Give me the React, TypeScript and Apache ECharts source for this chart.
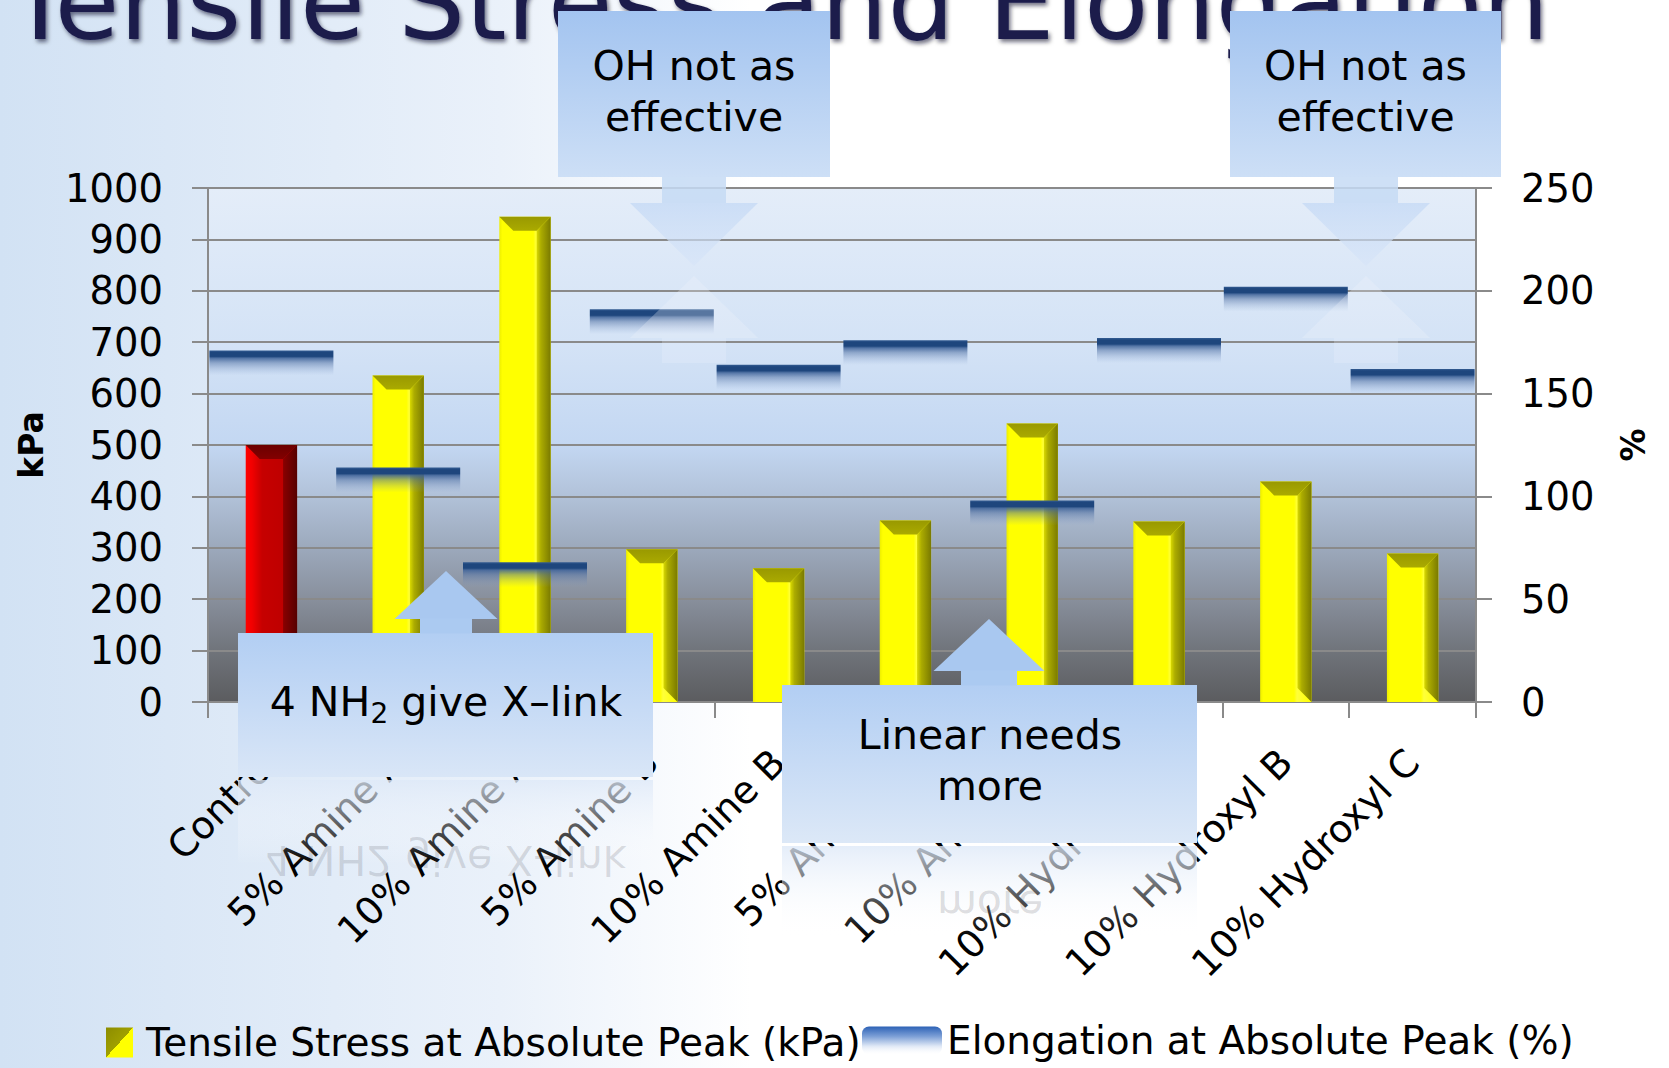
import React, { useEffect, useRef } from 'react';
import * as echarts from 'echarts';

// ---------- data ----------
const categories = [
  'Control',
  '5% Amine A',
  '10% Amine A',
  '5% Amine B',
  '10% Amine B',
  '5% Amine C',
  '10% Amine C',
  '10% Hydroxyl A',
  '10% Hydroxyl B',
  '10% Hydroxyl C',
];
const tensileStress = [500, 635, 944, 297, 260, 353, 542, 351, 429, 289];
const elongation = [171, 114, 68, 191, 164, 176, 98, 177, 202, 162];

const kpaTicks = [0, 100, 200, 300, 400, 500, 600, 700, 800, 900, 1000];
const pctTicks = [0, 50, 100, 150, 200, 250];

const seriesNames = ['Tensile Stress at Absolute Peak (kPa)', 'Elongation at Absolute Peak (%)'];
const axisNames = ['kPa', '%'];
const slideTitle = 'Tensile Stress and Elongation';
const noteOH = 'OH not as\neffective';
const noteNH2 = '{a|4 NH}{s|2}{a| give X–link}';
const noteNH2Plain = '4 NH2 give X–link';
const noteLinear = 'Linear needs\nmore';
const noteLinearEcho = 'more';

const FONT = 'DejaVu Sans';

export default function App() {
  const ref = useRef<HTMLDivElement>(null);

  useEffect(() => {
    const chart = echarts.init(ref.current!, null, { renderer: 'svg' });
    const LG = echarts.graphic.LinearGradient;
    const stops = (arr: [number, string][]) => arr.map(([offset, color]) => ({ offset, color }));

    const yellow = {
      face: stops([[0, '#eeee00'], [0.06, '#ffff00'], [0.66, '#ffff00'], [0.72, '#ffff3a'], [1, '#ffff00']]),
      side: stops([[0, '#dada00'], [0.3, '#acac00'], [1, '#7a7a00']]),
      top: stops([[0, '#999900'], [1, '#aaaa00']]),
    };
    const red = {
      face: stops([[0, '#ff0000'], [0.12, '#f20000'], [0.32, '#c60000'], [0.72, '#bf0000'], [1, '#a80000']]),
      side: stops([[0, '#8a0000'], [1, '#560000']]),
      top: stops([[0, '#6c0000'], [1, '#820000']]),
    };

    const renderBar = (_params: any, api: any) => {
      const i = api.value(0);
      const v = api.value(1);
      const top = api.coord([i, v]);
      const base = api.coord([i, 0]);
      const w = api.size([1, 0])[0] * 0.405;
      const x0 = top[0] - w / 2;
      const x1 = top[0] + w / 2;
      const y0 = top[1];
      const y1 = base[1];
      const b = Math.min(14, (y1 - y0) / 2);
      const P = i === 0 ? red : yellow;
      return {
        type: 'group',
        children: [
          { type: 'rect', shape: { x: x0, y: y0, width: w, height: y1 - y0 }, style: { fill: new LG(0, 0, 1, 0, P.face) } },
          {
            type: 'polygon',
            shape: { points: [[x1 - b, y0 + b], [x1, y0], [x1, y1], [x1 - b, y1 - b]] },
            style: { fill: new LG(0, 0, 1, 0, P.side) },
          },
          {
            type: 'polygon',
            shape: { points: [[x0, y0], [x1, y0], [x1 - b, y0 + b], [x0 + b, y0 + b]] },
            style: { fill: new LG(0, 0, 0, 1, P.top) },
          },
        ],
      };
    };

    const boxFill = (c0: string, c1: string) => new LG(0, 0, 0, 1, stops([[0, c0], [1, c1]]));
    const txt = (x: number, y: number, text: string, extra: any = {}) => ({
      type: 'text',
      x,
      y,
      z: 102,
      style: {
        text,
        fontFamily: FONT,
        fontSize: 41,
        lineHeight: 51,
        fill: '#000',
        align: 'center',
        verticalAlign: 'middle',
        ...extra,
      },
    });

    const downArrow = (cx: number) => [
      { type: 'rect', z: 101, shape: { x: cx - 32, y: 177, width: 64, height: 26 }, style: { fill: 'rgba(198,219,245,0.85)' } },
      {
        type: 'polygon',
        z: 101,
        shape: { points: [[cx - 64, 203], [cx + 64, 203], [cx, 266]] },
        style: { fill: new LG(0, 0, 0, 1, stops([[0, 'rgba(196,217,245,0.75)'], [1, 'rgba(214,228,248,0.6)']])) },
      },
      {
        type: 'polygon',
        z: 101,
        shape: { points: [[cx, 276], [cx + 64, 338], [cx - 64, 338]] },
        style: { fill: 'rgba(240,246,253,0.28)' },
      },
      { type: 'rect', z: 101, shape: { x: cx - 32, y: 338, width: 64, height: 25 }, style: { fill: 'rgba(240,246,253,0.22)' } },
    ];

    const upArrow = (cx: number, tipY: number, baseY: number, boxTop: number, halfW: number, halfShaft: number) => [
      {
        type: 'polygon',
        z: 101,
        shape: { points: [[cx - halfW, baseY], [cx + halfW, baseY], [cx, tipY]] },
        style: { fill: '#a9c8f0' },
      },
      {
        type: 'rect',
        z: 101,
        shape: { x: cx - halfShaft, y: baseY - 0.5, width: halfShaft * 2, height: boxTop - baseY + 1 },
        style: { fill: '#abcaf1' },
      },
    ];

    const graphics: any[] = [
      {
        type: 'text',
        x: 8,
        y: 2.5,
        z: 1,
        style: {
          text: slideTitle,
          fontFamily: FONT,
          fontSize: 105.5,
          fill: '#1b1d4c',
          align: 'left',
          verticalAlign: 'middle',
          textShadowColor: 'rgba(0,0,30,0.55)',
          textShadowBlur: 4,
          textShadowOffsetX: 2,
          textShadowOffsetY: 3,
        },
      },
      // callout 1
      { type: 'rect', z: 100, shape: { x: 558, y: 11, width: 272, height: 166 }, style: { fill: boxFill('#a3c4f0', '#cddff6') } },
      ...downArrow(694),
      txt(694, 91.5, noteOH),
      // callout 2
      { type: 'rect', z: 100, shape: { x: 1230, y: 11, width: 271, height: 166 }, style: { fill: boxFill('#a3c4f0', '#cddff6') } },
      ...downArrow(1366),
      txt(1365.5, 91.5, noteOH),
      // callout 3
      ...upArrow(446, 571, 619, 633, 51.5, 26),
      { type: 'rect', z: 100, shape: { x: 238, y: 633, width: 415, height: 144 }, style: { fill: boxFill('#b2cef3', '#d9e6f7') } },
      {
        type: 'rect',
        z: 100,
        shape: { x: 238, y: 780, width: 415, height: 85 },
        style: { fill: boxFill('rgba(222,233,248,0.8)', 'rgba(255,255,255,0)') },
      },
      txt(446, 702, noteNH2, {
        rich: {
          a: { fontFamily: FONT, fontSize: 41, fill: '#000', lineHeight: 51 },
          s: { fontFamily: FONT, fontSize: 28, fill: '#000', lineHeight: 51, padding: [22, 0, 0, 0] },
        },
      }),
      {
        type: 'text',
        x: 446,
        y: 860,
        scaleY: -1,
        z: 101,
        style: { text: noteNH2Plain, fontFamily: FONT, fontSize: 41, fill: 'rgba(60,60,70,0.16)', align: 'center', verticalAlign: 'middle' },
      },
      // callout 4
      ...upArrow(989, 619, 671, 685, 55.5, 28),
      { type: 'rect', z: 100, shape: { x: 782, y: 685, width: 415, height: 158 }, style: { fill: boxFill('#b2cef3', '#dce8f7') } },
      {
        type: 'rect',
        z: 100,
        shape: { x: 782, y: 846, width: 415, height: 92 },
        style: { fill: boxFill('rgba(222,233,248,0.8)', 'rgba(255,255,255,0)') },
      },
      txt(990, 760, noteLinear),
      {
        type: 'text',
        x: 990,
        y: 905,
        scaleY: -1,
        z: 101,
        style: { text: noteLinearEcho, fontFamily: FONT, fontSize: 41, fill: 'rgba(60,60,70,0.18)', align: 'center', verticalAlign: 'middle' },
      },
    ];

    const gridLine = { color: '#8a8a8a', width: 2 };
    const labelStyle = { fontFamily: FONT, fontSize: 38.5, color: '#000' };
    const legendText = { fontFamily: FONT, fontSize: 39, color: '#000' };

    const option: any = {
      animation: false,
      backgroundColor: new LG(0, 0, 1, 0, stops([[0, '#d2e2f4'], [0.3, '#eaf1fa'], [0.45, '#ffffff'], [1, '#ffffff']])),
      textStyle: { fontFamily: FONT },
      grid: {
        left: 208,
        right: 193,
        top: 188,
        bottom: 366,
        show: true,
        borderWidth: 0,
        backgroundColor: new LG(0, 0, 0, 1, stops([
          [0, '#e4edf9'],
          [0.3, '#d4e3f6'],
          [0.5, '#c3d7f2'],
          [0.58, '#b5c6de'],
          [0.7, '#9ca9bc'],
          [0.8, '#888f9c'],
          [0.9, '#70747b'],
          [1, '#5b5c5f'],
        ])),
      },
      legend: [
        {
          data: [{ name: seriesNames[0], icon: 'rect' }],
          left: 106,
          top: 1023,
          padding: 0,
          itemWidth: 27,
          itemHeight: 30,
          textStyle: { ...legendText, padding: [0, 0, 0, 8] },
          selectedMode: false,
        },
        {
          data: [
            {
              name: seriesNames[1],
              icon: 'roundRect',
              itemStyle: {
                color: new LG(0, 0, 0, 1, stops([
                  [0, '#2d62b6'],
                  [0.35, '#7c9fd6'],
                  [0.7, '#dfe8f6'],
                  [1, 'rgba(255,255,255,0.2)'],
                ])),
              },
            },
          ],
          left: 862,
          top: 1021,
          padding: 0,
          itemWidth: 80,
          itemHeight: 28,
          textStyle: { ...legendText, padding: [8, 0, 0, 0] },
          selectedMode: false,
        },
      ],
      xAxis: {
        type: 'category',
        data: categories,
        boundaryGap: true,
        axisLine: { show: true, lineStyle: gridLine },
        axisTick: { show: true, length: 16, lineStyle: gridLine, alignWithLabel: false },
        axisLabel: { ...labelStyle, fontSize: 38, rotate: 45, margin: 54, interval: 0 },
        splitLine: { show: false },
      },
      yAxis: [
        {
          type: 'value',
          min: kpaTicks[0],
          max: kpaTicks[kpaTicks.length - 1],
          interval: kpaTicks[1] - kpaTicks[0],
          name: axisNames[0],
          nameLocation: 'middle',
          nameRotate: 90,
          nameGap: 160,
          nameTextStyle: { fontFamily: FONT, fontSize: 33, fontWeight: 'bold', color: '#000' },
          axisLine: { show: true, lineStyle: gridLine },
          axisTick: { show: true, length: 16, lineStyle: gridLine },
          axisLabel: { ...labelStyle, margin: 45, formatter: (v: number) => String(v) },
          splitLine: { show: true, lineStyle: gridLine },
        },
        {
          type: 'value',
          min: pctTicks[0],
          max: pctTicks[pctTicks.length - 1],
          interval: pctTicks[1] - pctTicks[0],
          name: axisNames[1],
          nameLocation: 'middle',
          nameRotate: 90,
          nameGap: 141,
          nameTextStyle: { fontFamily: FONT, fontSize: 33, fontWeight: 'bold', color: '#000' },
          position: 'right',
          axisLine: { show: true, lineStyle: gridLine },
          axisTick: { show: true, length: 16, lineStyle: gridLine },
          axisLabel: { ...labelStyle, margin: 45, formatter: (v: number) => String(v) },
          splitLine: { show: false },
        },
      ],
      series: [
        {
          name: seriesNames[0],
          type: 'custom',
          renderItem: renderBar,
          yAxisIndex: 0,
          encode: { x: 0, y: 1 },
          data: tensileStress.map((v, i) => [i, v]),
          itemStyle: {
            color: new LG(0, 0, 1, 1, stops([[0, '#8c8c00'], [0.5, '#a0a000'], [0.5, '#ffff00'], [1, '#ffff00']])),
          },
          z: 2,
        },
        {
          name: seriesNames[1],
          type: 'scatter',
          yAxisIndex: 1,
          data: elongation.map((v, i) => [i, v]),
          symbol: 'rect',
          symbolSize: [124, 25],
          symbolOffset: [0, 12.5],
          itemStyle: {
            opacity: 1,
            color: new LG(0, 0, 0, 1, stops([
              [0, 'rgba(52,92,146,1)'],
              [0.08, 'rgba(30,70,125,1)'],
              [0.24, 'rgba(30,70,125,1)'],
              [0.32, 'rgba(62,98,152,0.85)'],
              [0.5, 'rgba(75,108,160,0.5)'],
              [0.72, 'rgba(95,125,175,0.25)'],
              [1, 'rgba(130,160,205,0)'],
            ])),
          },
          z: 3,
        },
      ],
      graphic: graphics,
    };

    chart.setOption(option);
    return () => chart.dispose();
  }, []);

  return <div ref={ref} style={{ position: 'fixed', left: 0, top: 0, width: 1669, height: 1068 }} />;
}
